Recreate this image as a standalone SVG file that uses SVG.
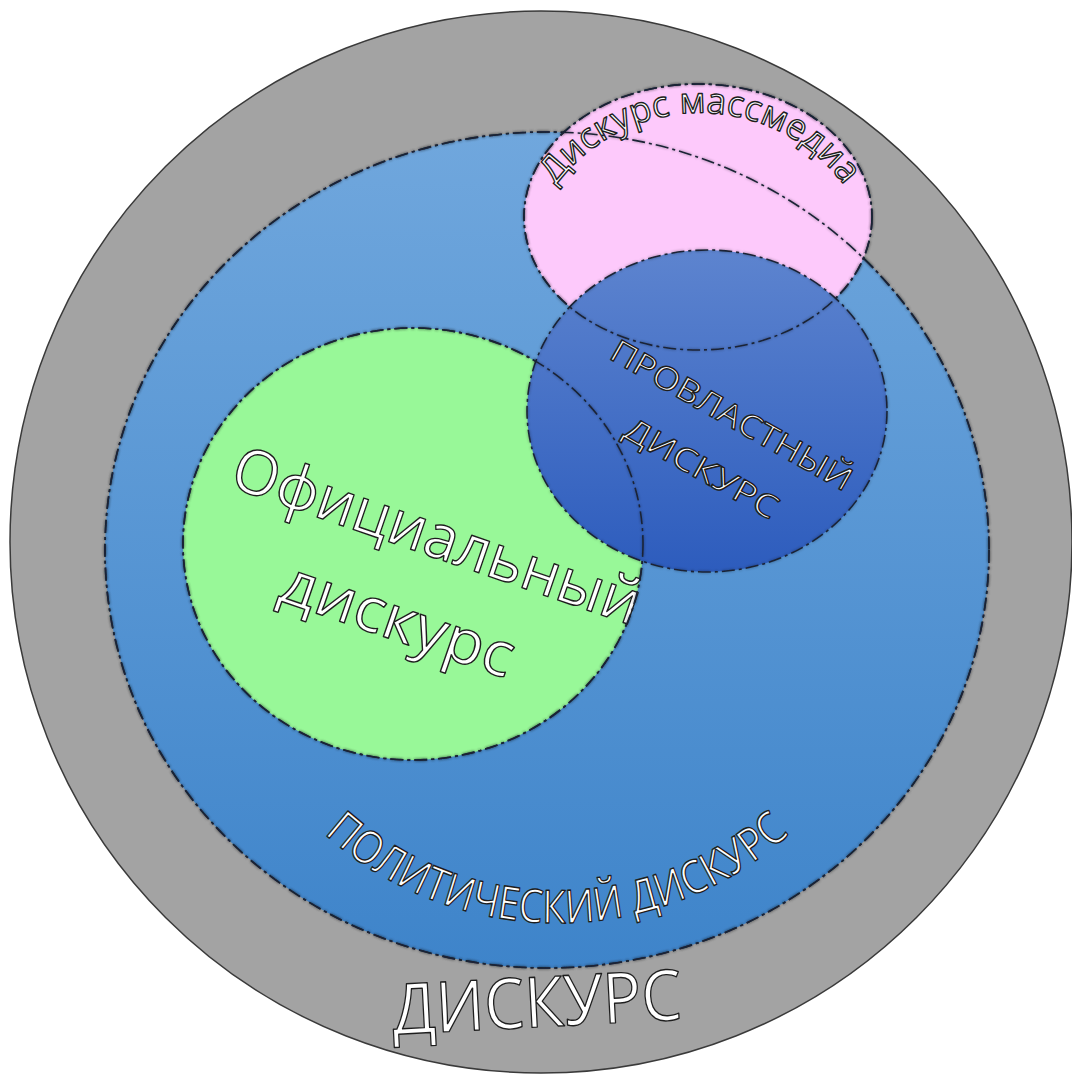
<svg xmlns="http://www.w3.org/2000/svg" width="1072" height="1077" viewBox="0 0 1072 1077">
<defs>
<linearGradient id="gBlue" x1="0" y1="0" x2="0" y2="1"><stop offset="0" stop-color="#70a7dd"/><stop offset="1" stop-color="#3e84ca"/></linearGradient>
<linearGradient id="gDark" x1="0" y1="0" x2="0" y2="1"><stop offset="0" stop-color="#5d84cf"/><stop offset="1" stop-color="#2d5cbd"/></linearGradient>
<filter id="soft" x="-5%" y="-5%" width="110%" height="110%"><feDropShadow dx="0" dy="0" stdDeviation="1.5" flood-color="#000" flood-opacity="0.45"/></filter>
<path id="arcMedia" d="M544.1,203 A180,180 0 0 1 855.9,203"/>
<path id="arcPolit" d="M310.9,821.1 A348,348 0 0 0 803.1,821.1"/>
<ellipse id="eBlue" cx="547" cy="550" rx="442" ry="418"/>
<ellipse id="ePink" cx="698" cy="217" rx="174" ry="133"/>
<ellipse id="eGreen" cx="413" cy="544" rx="230" ry="216"/>
<ellipse id="eDark" cx="707" cy="411" rx="180" ry="161"/>
</defs>
<style>
.lbl{font-family:"Open Sans","DejaVu Sans",sans-serif;fill:#ffffff;stroke:#1e1e1e;stroke-width:1.4px;stroke-linejoin:round}
.edge{fill:none;stroke:#1a2436;stroke-width:1.6;stroke-dasharray:13 4 3 4;filter:url(#soft)}
</style>
<g id="discourse">
<circle cx="541" cy="542" r="531" fill="#a3a3a3" stroke="#3a3a3a" stroke-width="1.5"/>
<text class="lbl" font-size="70" text-anchor="middle" textLength="290" lengthAdjust="spacingAndGlyphs" transform="translate(538,1027) rotate(-3)">ДИСКУРС</text>
</g>
<g id="political">
<use href="#eBlue" fill="url(#gBlue)"/>
<use href="#eBlue" class="edge"/>
<text class="lbl" font-size="46"><textPath href="#arcPolit" startOffset="50%" text-anchor="middle" textLength="510" lengthAdjust="spacingAndGlyphs">ПОЛИТИЧЕСКИЙ ДИСКУРС</textPath></text>
</g>
<g id="massmedia">
<use href="#ePink" fill="#fdc9fb"/>
<use href="#ePink" class="edge"/>
<text class="lbl" font-size="36"><textPath href="#arcMedia" startOffset="50%" text-anchor="middle" textLength="335" lengthAdjust="spacingAndGlyphs">Дискурс массмедиа</textPath></text>
</g>
<g id="official">
<use href="#eGreen" fill="#98f898"/>
<use href="#eGreen" class="edge"/>
<text class="lbl" font-size="62" text-anchor="middle" textLength="428" lengthAdjust="spacingAndGlyphs" transform="translate(430,556) rotate(19)">Официальный</text>
<text class="lbl" font-size="62" text-anchor="middle" textLength="243" lengthAdjust="spacingAndGlyphs" transform="translate(391,639) rotate(19)">дискурс</text>
</g>
<g id="propower">
<use href="#eDark" fill="url(#gDark)"/>
<use href="#eDark" class="edge"/>
<text class="lbl" font-size="32" text-anchor="middle" textLength="272" lengthAdjust="spacingAndGlyphs" transform="translate(726,425) rotate(29.5)">ПРОВЛАСТНЫЙ</text>
<text class="lbl" font-size="32" text-anchor="middle" textLength="171" lengthAdjust="spacingAndGlyphs" transform="translate(696,478) rotate(29.5)">ДИСКУРС</text>
</g>
<g id="overlap-edges">
<use href="#eBlue" class="edge"/>
<use href="#ePink" class="edge"/>
<use href="#eGreen" class="edge"/>
</g>
</svg>
